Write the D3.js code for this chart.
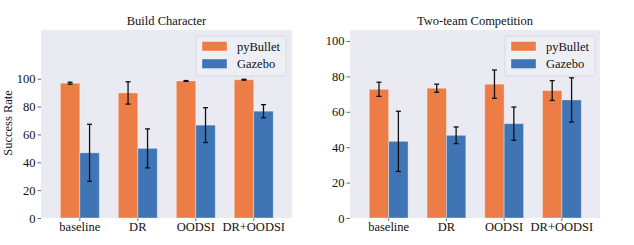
<!DOCTYPE html>
<html>
<head>
<meta charset="utf-8">
<script src="https://cdn.jsdelivr.net/npm/d3@7"></script>
<style>
  body { margin: 0; background: #fff; }
  text { font-family: "Liberation Serif", "DejaVu Serif", serif; fill: #111; }
</style>
</head>
<body>
<svg id="chart" width="634" height="245"></svg>
<script>
// data
var methods = ["baseline", "DR", "OODSI", "DR+OODSI"];
var series = ["pyBullet", "Gazebo"];
var yTicks = [0, 20, 40, 60, 80, 100];

var buildTitle = "Build Character";
var buildPy = [96.8, 89.8, 98.4, 99.3];
var buildPyErr = [0.7, 8, 0.3, 0.3];
var buildGz = [46.8, 50, 66.7, 76.7];
var buildGzErr = [20.5, 14, 12.5, 4.7];

var teamTitle = "Two-team Competition";
var teamPy = [72.7, 73.3, 75.6, 72];
var teamPyErr = [4, 2.3, 8, 5.6];
var teamGz = [43.3, 46.7, 53.3, 66.7];
var teamGzErr = [17, 4.7, 9.4, 12.5];

var colors = ["#ec7d46", "#3f74b5"];

var svg = d3.select("#chart");

function panel(opts) {
  var x0 = opts.left, x1 = opts.right, top = 30, bottom = 218;
  var x = d3.scaleLinear().domain([-0.67, 3.66]).range([x0, x1]);
  var y = d3.scaleLinear().domain([0, opts.ymax]).range([bottom, top]);
  var bw = x(0.336) - x(0);

  var g = svg.append("g");

  // background
  g.append("rect")
    .attr("x", x0).attr("y", top)
    .attr("width", x1 - x0).attr("height", bottom - top)
    .attr("fill", "#eaeaf2");

  // y axis
  var yAxis = g.append("g")
    .attr("transform", "translate(" + x0 + ",0)")
    .call(d3.axisLeft(y).tickValues(yTicks).tickSize(3.5).tickPadding(2));
  yAxis.select(".domain").remove();
  yAxis.selectAll("line").attr("stroke", "#444").attr("stroke-width", 0.8);
  yAxis.selectAll("text")
    .attr("font-size", "12.5px")
    .attr("font-family", "Liberation Serif, serif")
    .attr("fill", "#111");

  // x labels
  g.selectAll(".xl")
    .data(methods)
    .enter()
    .append("text")
    .attr("x", function(d, i) { return x(i); })
    .attr("y", bottom + 13)
    .attr("text-anchor", "middle")
    .attr("font-size", "12.5px")
    .text(function(d) { return d; });

  // small x tick marks
  g.selectAll(".xt")
    .data(methods)
    .enter()
    .append("line")
    .attr("x1", function(d, i) { return x(i); })
    .attr("x2", function(d, i) { return x(i); })
    .attr("y1", bottom).attr("y2", bottom + 3)
    .attr("stroke", "#444").attr("stroke-width", 0.8);

  var sets = [
    { vals: opts.py, errs: opts.pyErr, off: -bw / 2, color: colors[0] },
    { vals: opts.gz, errs: opts.gzErr, off: bw / 2, color: colors[1] }
  ];

  sets.forEach(function(s) {
    g.selectAll(null)
      .data(s.vals)
      .enter()
      .append("rect")
      .attr("x", function(d, i) { return x(i) + s.off - bw / 2; })
      .attr("y", function(d) { return y(d); })
      .attr("width", bw)
      .attr("height", function(d) { return bottom - y(d); })
      .attr("fill", s.color)
      .attr("stroke", "rgba(255,255,255,0.35)")
      .attr("stroke-width", 1);
  });

  sets.forEach(function(s) {
    s.vals.forEach(function(v, i) {
      var cx = x(i) + s.off;
      var lo = y(v - s.errs[i]), hi = y(v + s.errs[i]);
      var e = g.append("g").attr("stroke", "#111").attr("stroke-width", 1.3);
      e.append("line").attr("x1", cx).attr("x2", cx).attr("y1", lo).attr("y2", hi);
      e.append("line").attr("x1", cx - 2.5).attr("x2", cx + 2.5).attr("y1", lo).attr("y2", lo);
      e.append("line").attr("x1", cx - 2.5).attr("x2", cx + 2.5).attr("y1", hi).attr("y2", hi);
    });
  });

  // title
  g.append("text")
    .attr("x", (x0 + x1) / 2)
    .attr("y", 25)
    .attr("text-anchor", "middle")
    .attr("font-size", "12.5px")
    .text(opts.title);

  // legend
  var lx = opts.legendX, ly = 36;
  var lg = g.append("g");
  lg.append("rect")
    .attr("x", lx).attr("y", ly)
    .attr("width", 90).attr("height", 40)
    .attr("rx", 2.5)
    .attr("fill", "#eeeef5")
    .attr("stroke", "#d4d4dc")
    .attr("stroke-width", 0.8);
  series.forEach(function(name, i) {
    lg.append("rect")
      .attr("x", lx + 6).attr("y", ly + 5.5 + i * 17.5)
      .attr("width", 25).attr("height", 9.5)
      .attr("fill", colors[i])
      .attr("stroke", "rgba(255,255,255,0.35)");
    lg.append("text")
      .attr("x", lx + 41).attr("y", ly + 14.5 + i * 17.5)
      .attr("font-size", "12.5px")
      .text(name);
  });
}

panel({ left: 41, right: 292, ymax: 135, title: buildTitle,
        py: buildPy, pyErr: buildPyErr, gz: buildGz, gzErr: buildGzErr, legendX: 196 });
panel({ left: 350, right: 600, ymax: 106.2, title: teamTitle,
        py: teamPy, pyErr: teamPyErr, gz: teamGz, gzErr: teamGzErr, legendX: 505 });

// y label
svg.append("text")
  .attr("transform", "translate(12,123) rotate(-90)")
  .attr("text-anchor", "middle")
  .attr("font-size", "12.5px")
  .text("Success Rate");
</script>
</body>
</html>
